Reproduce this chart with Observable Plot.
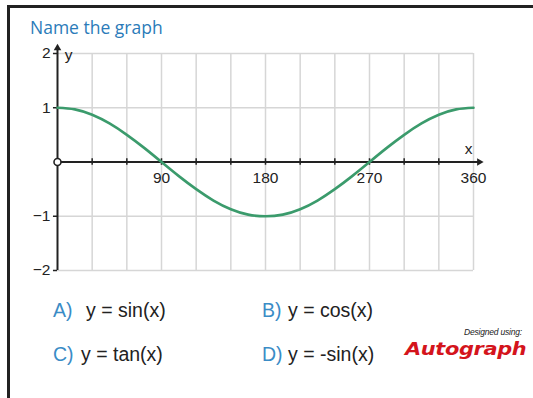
<!DOCTYPE html>
<html>
<head>
<meta charset="utf-8">
<script src="https://cdn.jsdelivr.net/npm/d3@7"></script>
<script src="https://cdn.jsdelivr.net/npm/@observablehq/plot@0.6"></script>
<style>
  html, body { margin: 0; padding: 0; background: #fff; }
  #page { position: relative; width: 533px; height: 398px; overflow: hidden; background: #fff; }
  #frame { position: absolute; left: 7px; top: 5px; right: -5px; bottom: -5px;
           border-left: 3px solid #222; border-top: 3px solid #222; }
  #title { position: absolute; left: 30px; top: 15px;
           font-family: "Open Sans", sans-serif; font-size: 17.5px; line-height: 24px; color: #2b7bb9; white-space: nowrap; }
  #chart { position: absolute; left: 0; top: 0; }
  .ans { position: absolute; font-family: "Liberation Sans", Arial, sans-serif; font-size: 19.5px; line-height: 19px; color: #222; white-space: nowrap; }
  .ans .k { color: #3a8cc6; }
  #designed { position: absolute; right: 11px; top: 328px; font-family: "Liberation Sans", Arial, sans-serif;
              font-style: italic; font-size: 8.5px; line-height: 9px; color: #222; letter-spacing: -0.2px; }
  #logo { position: absolute; left: 405px; top: 339px; font-family: "DejaVu Sans", sans-serif; font-weight: bold;
          font-style: oblique; font-size: 18px; line-height: 20px; color: #d4141c; transform-origin: left center;
          transform: scaleX(1.16); letter-spacing: -0.3px; }
</style>
</head>
<body>
<div id="page">
  <div id="frame"></div>
  <div id="chart"></div>
  <div id="title"></div>
  <div id="answers"></div>
  <div id="designed">Designed using:</div>
  <div id="logo">Autograph</div>
</div>
<script>
// ---- data ----
const titleText = "Name the graph";
const angles = [0, 15, 30, 45, 60, 75, 90, 105, 120, 135, 150, 165, 180, 195, 210, 225, 240, 255, 270, 285, 300, 315, 330, 345, 360];
const curveValues = [1, 0.97, 0.87, 0.71, 0.5, 0.26, 0, -0.26, -0.5, -0.71, -0.87, -0.97, -1, -0.97, -0.87, -0.71, -0.5, -0.26, 0, 0.26, 0.5, 0.71, 0.87, 0.97, 1];
const gridX = [30, 60, 90, 120, 150, 180, 210, 240, 270, 300, 330, 360];
const gridY = [-2, -1, 1, 2];
const xTickMarks = [30, 60, 90, 120, 150, 180, 210, 240, 270, 300, 330];
const xTickLabels = [90, 180, 270, 360];
const yTickLabels = [2, 1, -1, -2];
const xAxisEnd = 365;
const yAxisEnd = 2.1;
const answerKeys = ["A)", "B)", "C)", "D)"];
const answerTexts = ["y = sin(x)", "y = cos(x)", "y = tan(x)", "y = -sin(x)"];

// ---- build ----
document.getElementById("title").textContent = titleText;

const curve = angles.map((a, i) => ({x: a, y: curveValues[i]}));
const fmt = d => d < 0 ? "\u2212" + Math.abs(d) : String(d);
const ink = "#222";
const fs = 15.5;

const chart = Plot.plot({
  width: 533,
  height: 290,
  marginLeft: 57,
  marginRight: 60,
  marginTop: 53,
  marginBottom: 20,
  x: {domain: [0, 360], axis: null},
  y: {domain: [-2, 2], axis: null},
  style: {background: "transparent", fontFamily: "'Liberation Sans', Arial, sans-serif", fontSize: "15.5px", color: ink},
  marks: [
    Plot.ruleX(gridX, {x: d => d, y1: -2, y2: 2, stroke: "#d6d6d6", strokeWidth: 1.5}),
    Plot.ruleY(gridY, {y: d => d, x1: 0, x2: 360, stroke: "#d6d6d6", strokeWidth: 1.5}),
    // axes
    Plot.ruleY([0], {y: d => d, x1: 0, x2: xAxisEnd, stroke: ink, strokeWidth: 2}),
    Plot.ruleX([0], {x: d => d, y1: -2, y2: yAxisEnd, stroke: ink, strokeWidth: 2}),
    Plot.dot([{x: xAxisEnd, y: 0}], {x: "x", y: "y", symbol: "triangle2", rotate: 90, r: 3.6, fill: ink, stroke: "none"}),
    Plot.dot([{x: 0, y: yAxisEnd}], {x: "x", y: "y", symbol: "triangle2", r: 3.6, fill: ink, stroke: "none"}),
    // tick marks
    Plot.ruleX(xTickMarks, {x: d => d, y1: -0.06, y2: 0.06, stroke: ink, strokeWidth: 1.5}),
    Plot.ruleY(gridY, {y: d => d, x1: -3.5, x2: 0, stroke: ink, strokeWidth: 1.5}),
    // curve
    Plot.line(curve, {x: "x", y: "y", stroke: "#3b9b6c", strokeWidth: 2.6, curve: "natural"}),
    // origin circle
    Plot.dot([{x: 0, y: 0}], {x: "x", y: "y", r: 3.5, stroke: ink, strokeWidth: 1.6, fill: "white"}),
    // tick labels
    Plot.text(xTickLabels, {x: d => d, y: 0, dy: 16, text: d => String(d), fill: ink, fontSize: fs}),
    Plot.text(yTickLabels, {x: 0, y: d => d, dx: -7, text: fmt, textAnchor: "end", fill: ink, fontSize: fs}),
    // axis names
    Plot.text([{x: 360, y: 0, t: "x"}], {x: "x", y: "y", text: "t", dx: -5, dy: -13, fill: ink, fontSize: fs}),
    Plot.text([{x: 0, y: 2, t: "y"}], {x: "x", y: "y", text: "t", dx: 11, dy: 2, fill: ink, fontSize: fs})
  ]
});
document.getElementById("chart").appendChild(chart);

// answers
const pos = [
  {kx: 53, tx: 86, top: 301},
  {kx: 262, tx: 288, top: 301},
  {kx: 53, tx: 81, top: 345},
  {kx: 262, tx: 288, top: 345}
];
const ans = document.getElementById("answers");
answerKeys.forEach((k, i) => {
  const a = document.createElement("div");
  a.className = "ans";
  a.style.left = pos[i].kx + "px";
  a.style.top = pos[i].top + "px";
  a.innerHTML = `<span class="k"></span>`;
  a.querySelector(".k").textContent = k;
  ans.appendChild(a);
  const b = document.createElement("div");
  b.className = "ans";
  b.style.left = pos[i].tx + "px";
  b.style.top = pos[i].top + "px";
  b.textContent = answerTexts[i];
  ans.appendChild(b);
});
</script>
</body>
</html>
